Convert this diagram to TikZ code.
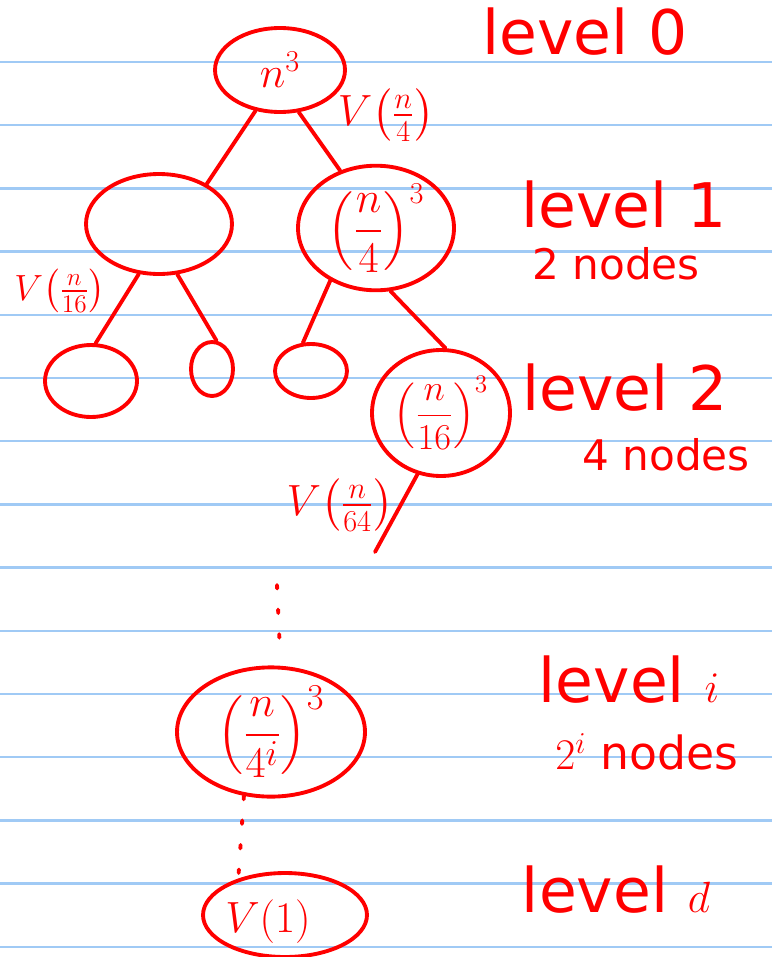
\documentclass[tikz,border=0pt]{standalone}
\usepackage{amsmath}
\usepackage{fontspec}
\setmainfont{DejaVu Sans}
\usetikzlibrary{shapes.geometric}

\definecolor{ink}{RGB}{255,0,0}
\definecolor{paperrule}{RGB}{160,202,245}

\newcommand{\fs}[1]{\fontsize{#1}{#1}\selectfont}

\begin{document}
\begin{tikzpicture}[x=0.02cm,y=-0.02cm,
  pen/.style={draw=ink,line width=2.2pt,line cap=round},
  blob/.style={ellipse,pen,inner sep=0pt,text=ink,font=\fs{22}},
  cost/.style={text=ink,inner sep=0pt,font=\fs{22}},
  note/.style={text=ink,inner sep=0pt,font=\fs{35}},
  count/.style={text=ink,inner sep=0pt,font=\fs{24}},
  dots/.style={pen,dash pattern=on 2pt off 12pt}]
  \useasboundingbox[fill=white] (0,0) rectangle (772,957);
  % ruled paper
  \foreach \k in {0,...,14}
    \draw[paperrule,line width=1.3pt] (0,62+63.2*\k) -- (772,62+63.2*\k);

  % level 0 and 1
  \node[blob,font=\fs{26},minimum width=2.6cm,minimum height=1.68cm] (root) at (280,70) {$n^3$};
  \node[blob,minimum width=2.92cm,minimum height=2cm] (left1) at (159,224) {};
  \node[blob,font=\fs{23},minimum width=3.12cm,minimum height=2.08cm] (right1) at (376,228)
    {$\displaystyle\left(\frac{n}{4}\right)^{3}$};

  % level 2
  \node[blob,minimum width=1.84cm,minimum height=1.44cm] (leafA) at (91,381) {};
  \node[blob,minimum width=0.84cm,minimum height=1.08cm] (leafB) at (212,369) {};
  \node[blob,minimum width=1.44cm,minimum height=1.08cm] (leafC) at (311,371) {};
  \node[blob,minimum width=2.76cm,minimum height=2.52cm] (leafD) at (441,413)
    {$\displaystyle\left(\frac{n}{16}\right)^{3}$};

  % level i and d
  \node[blob,font=\fs{28},minimum width=3.76cm,minimum height=2.32cm] (leveli) at (271,732)
    {$\displaystyle\left(\frac{n}{4^i}\right)^{3}$};
  \node[blob,minimum width=3.28cm,minimum height=1.68cm] (leveld) at (285,915) {};
  \node[cost,font=\fs{30}] (vone) at (268,922) {$V(1)$};

  \coordinate (tail) at (375,552);
  \coordinate (dotA) at (277,585);
  \coordinate (dotB) at (280,652);

  % edges
  \draw[pen] (root.239) -- (left1.40);
  \draw[pen] (root.294) -- (right1.122);
  \draw[pen] (left1.248) -- (leafA.83);
  \draw[pen] (left1.290) -- (leafB.81);
  \draw[pen] (right1.229) -- (leafC.106);
  \draw[pen] (right1.283) -- (leafD.86);
  \draw[pen] (leafD.249) -- (tail);
  \draw[dots] (dotA) -- (dotB);
  \draw[dots] (leveli.247) -- (leveld.142);

  % edge costs
  \node[cost,font=\fs{24}] (c1) at (386,115) {$V\!\left(\frac{n}{4}\right)$};
  \node[cost,font=\fs{21}] (c2) at (60,291) {$V\!\left(\frac{n}{16}\right)$};
  \node[cost,font=\fs{25}] (c3) at (340,505) {$V\!\left(\frac{n}{64}\right)$};

  % level notes
  \node[note] (lv0) at (585,32) {level 0};
  \node[note] (lv1) at (624,205) {level 1};
  \node[count] (nd1) at (616,264) {2 nodes};
  \node[note] (lv2) at (625,388) {level 2};
  \node[count] (nd2) at (666,455) {4 nodes};
  \node[note] (lvi) at (629,680) {level $i$};
  \node[count,font=\fs{26}] (ndi) at (647,752) {$2^i$ nodes};
  \node[note] (lvd) at (616,890) {level $d$};
\end{tikzpicture}
\end{document}
